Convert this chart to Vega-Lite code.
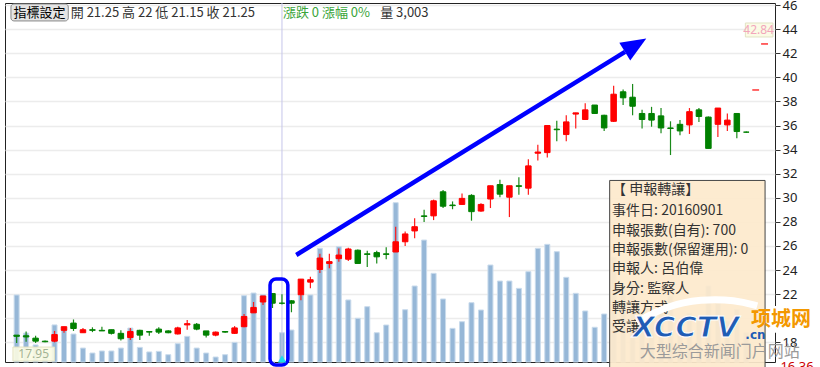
{
 "$schema": "https://vega.github.io/schema/vega-lite/v6.json",
 "width": 770, "height": 359,
 "autosize": {"type": "none"},
 "padding": {"left": 5, "top": 3, "right": 45, "bottom": 5},
 "background": "white",
 "config": {"view": {"stroke": "#222", "strokeWidth": 1}, "font": "Noto Sans CJK TC"},
 "datasets": {
  "k": [
   {"i":0,"o":18.6,"c":18.5,"h":18.6,"l":17.95,"v":6870},
   {"i":1,"o":18.55,"c":18.45,"h":18.9,"l":18.05,"v":2970},
   {"i":2,"o":18.35,"c":18.1,"h":18.55,"l":17.95,"v":1750},
   {"i":3,"o":18.1,"c":18.05,"h":18.15,"l":18.0,"v":920},
   {"i":4,"o":18.1,"c":18.65,"h":18.95,"l":18.0,"v":3800},
   {"i":5,"o":19.0,"c":19.3,"h":19.3,"l":18.8,"v":3300},
   {"i":6,"o":19.6,"c":19.15,"h":19.9,"l":18.95,"v":2870},
   {"i":7,"o":18.8,"c":19.05,"h":19.2,"l":18.8,"v":1430},
   {"i":8,"o":19.05,"c":19.0,"h":19.25,"l":18.85,"v":920},
   {"i":9,"o":19.0,"c":18.95,"h":19.3,"l":18.95,"v":1130},
   {"i":10,"o":19.05,"c":18.75,"h":19.05,"l":18.65,"v":1130},
   {"i":11,"o":18.75,"c":18.3,"h":19.0,"l":18.15,"v":1430},
   {"i":12,"o":18.4,"c":18.9,"h":19.2,"l":18.2,"v":3480},
   {"i":13,"o":19.0,"c":18.6,"h":19.05,"l":18.2,"v":1500},
   {"i":14,"o":18.9,"c":18.85,"h":18.9,"l":18.55,"v":1030},
   {"i":15,"o":19.1,"c":18.85,"h":19.25,"l":18.7,"v":1090},
   {"i":16,"o":18.95,"c":18.8,"h":19.0,"l":18.75,"v":750},
   {"i":17,"o":18.7,"c":19.2,"h":19.3,"l":18.65,"v":1880},
   {"i":18,"o":19.45,"c":19.55,"h":19.85,"l":19.05,"v":2630},
   {"i":19,"o":19.5,"c":19.1,"h":19.6,"l":19.0,"v":1430},
   {"i":20,"o":18.95,"c":18.6,"h":18.95,"l":18.4,"v":920},
   {"i":21,"o":18.6,"c":18.85,"h":18.9,"l":18.5,"v":510},
   {"i":22,"o":18.9,"c":18.85,"h":18.95,"l":18.8,"v":750},
   {"i":23,"o":18.75,"c":19.2,"h":19.35,"l":18.7,"v":2010},
   {"i":24,"o":19.3,"c":20.15,"h":20.35,"l":19.25,"v":6800},
   {"i":25,"o":20.45,"c":20.9,"h":21.35,"l":20.45,"v":7070},
   {"i":26,"o":21.35,"c":21.85,"h":21.85,"l":21.1,"v":6900},
   {"i":27,"o":22.05,"c":21.25,"h":22.05,"l":20.85,"v":0},
   {"i":28,"o":21.25,"c":21.25,"h":22.0,"l":21.15,"v":3003},
   {"i":29,"o":21.45,"c":21.25,"h":21.5,"l":20.5,"v":3280},
   {"i":30,"o":21.95,"c":23.25,"h":23.25,"l":21.5,"v":6870},
   {"i":31,"o":23.0,"c":23.2,"h":23.45,"l":22.5,"v":6870},
   {"i":32,"o":24.05,"c":25.0,"h":25.35,"l":23.75,"v":11650},
   {"i":33,"o":24.55,"c":24.7,"h":25.35,"l":24.15,"v":10120},
   {"i":34,"o":24.95,"c":25.25,"h":25.8,"l":24.7,"v":11820},
   {"i":35,"o":24.9,"c":25.75,"h":25.85,"l":24.75,"v":6360},
   {"i":36,"o":25.65,"c":24.55,"h":25.7,"l":24.55,"v":4480},
   {"i":37,"o":25.35,"c":25.3,"h":25.6,"l":24.25,"v":5670},
   {"i":38,"o":25.45,"c":25.1,"h":25.6,"l":24.55,"v":3000},
   {"i":39,"o":25.35,"c":25.3,"h":25.9,"l":24.9,"v":3790},
   {"i":40,"o":25.5,"c":26.35,"h":27.6,"l":25.5,"v":16330},
   {"i":41,"o":26.35,"c":27.0,"h":27.2,"l":26.0,"v":5360},
   {"i":42,"o":27.25,"c":27.6,"h":28.3,"l":26.65,"v":7790},
   {"i":43,"o":28.5,"c":28.45,"h":29.0,"l":28.0,"v":12500},
   {"i":44,"o":28.5,"c":29.75,"h":29.85,"l":28.15,"v":9090},
   {"i":45,"o":30.5,"c":29.3,"h":30.65,"l":29.15,"v":6460},
   {"i":46,"o":29.4,"c":29.35,"h":29.7,"l":29.05,"v":3450},
   {"i":47,"o":29.45,"c":29.95,"h":30.35,"l":29.4,"v":4130},
   {"i":48,"o":30.2,"c":28.85,"h":30.3,"l":28.1,"v":6080},
   {"i":49,"o":28.9,"c":29.45,"h":29.55,"l":28.85,"v":5330},
   {"i":50,"o":29.9,"c":31.0,"h":31.0,"l":29.15,"v":9940},
   {"i":51,"o":31.1,"c":30.3,"h":31.5,"l":30.05,"v":8300},
   {"i":52,"o":30.05,"c":31.0,"h":31.0,"l":28.4,"v":8300},
   {"i":53,"o":31.0,"c":30.95,"h":31.7,"l":30.25,"v":7550},
   {"i":54,"o":30.8,"c":32.65,"h":33.2,"l":30.25,"v":9260},
   {"i":55,"o":33.7,"c":33.8,"h":34.4,"l":33.1,"v":11650},
   {"i":56,"o":33.75,"c":36.0,"h":36.0,"l":33.35,"v":12060},
   {"i":57,"o":35.7,"c":35.65,"h":36.4,"l":34.7,"v":11310},
   {"i":58,"o":35.25,"c":36.3,"h":36.85,"l":34.7,"v":8680},
   {"i":59,"o":36.95,"c":37.05,"h":37.05,"l":35.75,"v":7040},
   {"i":60,"o":36.5,"c":37.3,"h":37.85,"l":36.5,"v":5230},
   {"i":61,"o":37.7,"c":37.0,"h":37.7,"l":36.95,"v":3560},
   {"i":62,"o":36.85,"c":35.8,"h":36.9,"l":35.55,"v":4920},
   {"i":63,"o":36.35,"c":38.6,"h":39.3,"l":36.3,"v":10760},
   {"i":64,"o":38.8,"c":38.3,"h":39.0,"l":37.7,"v":7000},
   {"i":65,"o":38.35,"c":37.6,"h":39.45,"l":36.85,"v":8200},
   {"i":66,"o":37.0,"c":36.5,"h":37.3,"l":35.75,"v":5200},
   {"i":67,"o":37.0,"c":36.45,"h":37.55,"l":35.9,"v":4600},
   {"i":68,"o":36.8,"c":35.8,"h":37.45,"l":35.35,"v":5600},
   {"i":69,"o":35.8,"c":35.75,"h":36.35,"l":33.55,"v":6800},
   {"i":70,"o":36.1,"c":35.55,"h":36.45,"l":35.2,"v":4100},
   {"i":71,"o":36.05,"c":37.15,"h":37.45,"l":35.3,"v":5000},
   {"i":72,"o":37.3,"c":36.75,"h":37.45,"l":36.3,"v":4300},
   {"i":73,"o":36.7,"c":34.1,"h":36.75,"l":34.1,"v":7800},
   {"i":74,"o":36.1,"c":37.45,"h":37.45,"l":35.05,"v":6000},
   {"i":75,"o":36.05,"c":36.45,"h":37.0,"l":35.55,"v":4200},
   {"i":76,"o":37.0,"c":35.5,"h":37.0,"l":34.95,"v":5400},
   {"i":77,"o":35.45,"c":35.45,"h":35.5,"l":35.4,"v":3000}
  ]
 },
 "resolve": {"scale": {"y": "independent"}},
 "layer": [
  {
   "data": {"name": "k"},
   "mark": {"type": "bar", "size": 5, "fill": "#96b7d7", "stroke": "#c9dbec", "strokeWidth": 1},
   "encoding": {
    "x": {"field": "i", "type": "quantitative", "scale": {"domain": [-0.7, 79.5]}, "axis": null},
    "y": {"field": "v", "type": "quantitative", "scale": {"domain": [0, 36800], "nice": false}, "axis": null}
   }
  },
  {
   "layer": [
    {
     "data": {"values": [{"i": 28}]},
     "mark": {"type": "rule", "color": "#c5c5ea", "strokeWidth": 1},
     "encoding": {
      "x": {"field": "i", "type": "quantitative", "scale": {"domain": [-0.7, 79.5]}, "axis": null}
     }
    },
    {
     "data": {"name": "k"},
     "mark": {"type": "rule", "strokeWidth": 1.2},
     "encoding": {
      "x": {"field": "i", "type": "quantitative", "scale": {"domain": [-0.7, 79.5]}, "axis": null},
      "y": {"field": "l", "type": "quantitative", "scale": {"domain": [16.37, 46.17], "zero": false, "nice": false},
        "axis": {"orient": "right", "title": null, "values": [18,20,22,24,26,28,30,32,34,36,38,40,42,44,46], "domain": false, "grid": true, "gridColor": "#ececec", "gridWidth": 1.5, "tickColor": "#333", "tickSize": 5, "labelFontSize": 13, "labelColor": "#222", "labelFont": "Noto Sans", "labelPadding": 2}},
      "y2": {"field": "h"},
      "color": {"condition": {"test": "datum.c > datum.o", "value": "#ff1a1a"}, "value": "#1a8a1a"}
     }
    },
    {
     "data": {"name": "k"},
     "mark": {"type": "bar", "size": 5.5, "strokeWidth": 1},
     "encoding": {
      "x": {"field": "i", "type": "quantitative", "scale": {"domain": [-0.7, 79.5]}, "axis": null},
      "y": {"field": "o", "type": "quantitative", "scale": {"domain": [16.37, 46.17], "zero": false, "nice": false},
        "axis": {"orient": "right", "title": null, "values": [18,20,22,24,26,28,30,32,34,36,38,40,42,44,46], "domain": false, "grid": true, "gridColor": "#ececec", "gridWidth": 1.5, "tickColor": "#333", "tickSize": 5, "labelFontSize": 13, "labelColor": "#222", "labelFont": "Noto Sans", "labelPadding": 2}},
      "y2": {"field": "c"},
      "color": {"condition": {"test": "datum.c > datum.o", "value": "#ff0000"}, "value": "#008000"},
      "stroke": {"condition": {"test": "datum.c > datum.o", "value": "#ff0000"}, "value": "#008000"}
     }
    }
   ]
  },
  {
   "layer": [
    {
     "data": {"values": [{"i": 29.51, "p": 25.25}, {"i": 64.2, "p": 42.12}]},
     "mark": {"type": "line", "color": "#0000ff", "strokeWidth": 4.5},
     "encoding": {
      "x": {"field": "i", "type": "quantitative", "scale": {"domain": [-0.7, 79.5]}, "axis": null},
      "y": {"field": "p", "type": "quantitative", "scale": {"domain": [16.37, 46.17], "zero": false, "nice": false}, "axis": null}
     }
    },
    {
     "data": {"values": [{"i": 65.31, "p": 42.68}]},
     "mark": {"type": "point", "shape": "M1,0L-1,-0.83L-1,0.83Z", "size": 635, "angle": -31.5, "filled": true, "color": "#0000ff", "opacity": 1},
     "encoding": {
      "x": {"field": "i", "type": "quantitative", "scale": {"domain": [-0.7, 79.5]}, "axis": null},
      "y": {"field": "p", "type": "quantitative", "scale": {"domain": [16.37, 46.17], "zero": false, "nice": false}, "axis": null}
     }
    },
    {
     "data": {"values": [{"i": 26.74, "i2": 28.62, "p": 23.26, "p2": 16.12}]},
     "mark": {"type": "rect", "cornerRadius": 6, "fillOpacity": 0, "stroke": "#0000ff", "strokeWidth": 3.5, "clip": false},
     "encoding": {
      "x": {"field": "i", "type": "quantitative", "scale": {"domain": [-0.7, 79.5]}, "axis": null},
      "x2": {"field": "i2"},
      "y": {"field": "p", "type": "quantitative", "scale": {"domain": [16.37, 46.17], "zero": false, "nice": false}, "axis": null},
      "y2": {"field": "p2"}
     }
    },
    {
     "data": {"values": [{"i": 28, "p": 16.62}]},
     "mark": {"type": "point", "shape": "triangle-up", "size": 70, "filled": true, "color": "#1ddcf0", "opacity": 1},
     "encoding": {
      "x": {"field": "i", "type": "quantitative", "scale": {"domain": [-0.7, 79.5]}, "axis": null},
      "y": {"field": "p", "type": "quantitative", "scale": {"domain": [16.37, 46.17], "zero": false, "nice": false}, "axis": null}
     }
    },
    {
     "data": {"values": [{"i": -0.39, "i2": 4.0, "p": 17.61, "p2": 16.45}, {"i": 76.9, "i2": 79.81, "p": 44.51, "p2": 43.35}]},
     "mark": {"type": "rect", "fill": "#fbfbe2", "fillOpacity": 0.9, "stroke": "#e2e2c4", "strokeWidth": 1},
     "encoding": {
      "x": {"field": "i", "type": "quantitative", "scale": {"domain": [-0.7, 79.5]}, "axis": null},
      "x2": {"field": "i2"},
      "y": {"field": "p", "type": "quantitative", "scale": {"domain": [16.37, 46.17], "zero": false, "nice": false}, "axis": null},
      "y2": {"field": "p2"}
     }
    },
    {
     "data": {"values": [{"i": 1.8, "p": 17.02, "t": "17.95"}]},
     "mark": {"type": "text", "fontSize": 12, "color": "#a3b394", "font": "Noto Sans", "baseline": "middle"},
     "encoding": {
      "x": {"field": "i", "type": "quantitative", "scale": {"domain": [-0.7, 79.5]}, "axis": null},
      "y": {"field": "p", "type": "quantitative", "scale": {"domain": [16.37, 46.17], "zero": false, "nice": false}, "axis": null},
      "text": {"field": "t"}
     }
    },
    {
     "data": {"values": [{"i": 78.3, "p": 43.93, "t": "42.84"}]},
     "mark": {"type": "text", "fontSize": 12, "color": "#f2a6bb", "font": "Noto Sans", "baseline": "middle"},
     "encoding": {
      "x": {"field": "i", "type": "quantitative", "scale": {"domain": [-0.7, 79.5]}, "axis": null},
      "y": {"field": "p", "type": "quantitative", "scale": {"domain": [16.37, 46.17], "zero": false, "nice": false}, "axis": null},
      "text": {"field": "t"}
     }
    },
    {
     "data": {"values": [{"i": 78.56, "i2": 79.29, "p": 42.77}, {"i": 77.63, "i2": 78.35, "p": 38.95}]},
     "mark": {"type": "rule", "color": "#ff0000", "strokeWidth": 1.2},
     "encoding": {
      "x": {"field": "i", "type": "quantitative", "scale": {"domain": [-0.7, 79.5]}, "axis": null},
      "x2": {"field": "i2"},
      "y": {"field": "p", "type": "quantitative", "scale": {"domain": [16.37, 46.17], "zero": false, "nice": false}, "axis": null}
     }
    },
    {
     "data": {"values": [{"i": -0.6, "i2": 5.45, "p": 46.09, "p2": 44.68}]},
     "mark": {"type": "rect", "fill": "#e4e4e4", "stroke": "#8a8a8a", "strokeWidth": 1, "cornerRadius": 3},
     "encoding": {
      "x": {"field": "i", "type": "quantitative", "scale": {"domain": [-0.7, 79.5]}, "axis": null},
      "x2": {"field": "i2"},
      "y": {"field": "p", "type": "quantitative", "scale": {"domain": [16.37, 46.17], "zero": false, "nice": false}, "axis": null},
      "y2": {"field": "p2"}
     }
    },
    {
     "data": {"values": [{"i": 2.42, "p": 45.38, "t": "指標設定"}]},
     "mark": {"type": "text", "fontSize": 13, "color": "#000", "baseline": "middle", "align": "center"},
     "encoding": {
      "x": {"field": "i", "type": "quantitative", "scale": {"domain": [-0.7, 79.5]}, "axis": null},
      "y": {"field": "p", "type": "quantitative", "scale": {"domain": [16.37, 46.17], "zero": false, "nice": false}, "axis": null},
      "text": {"field": "t"}
     }
    },
    {
     "data": {"values": [{"i": 5.71, "p": 45.38, "t": "開 21.25  高 22  低 21.15  收 21.25"}, {"i": 38.36, "p": 45.38, "t": "量 3,003"}]},
     "mark": {"type": "text", "fontSize": 13, "color": "#333", "baseline": "middle", "align": "left"},
     "encoding": {
      "x": {"field": "i", "type": "quantitative", "scale": {"domain": [-0.7, 79.5]}, "axis": null},
      "y": {"field": "p", "type": "quantitative", "scale": {"domain": [16.37, 46.17], "zero": false, "nice": false}, "axis": null},
      "text": {"field": "t"}
     }
    },
    {
     "data": {"values": [{"i": 28.1, "p": 45.38, "t": "漲跌 0  漲幅   0%"}]},
     "mark": {"type": "text", "fontSize": 13, "color": "#3aa53a", "baseline": "middle", "align": "left"},
     "encoding": {
      "x": {"field": "i", "type": "quantitative", "scale": {"domain": [-0.7, 79.5]}, "axis": null},
      "y": {"field": "p", "type": "quantitative", "scale": {"domain": [16.37, 46.17], "zero": false, "nice": false}, "axis": null},
      "text": {"field": "t"}
     }
    },
    {
     "data": {"values": [{"i": 62.58, "i2": 78.98, "p": 31.44, "p2": 15.9}]},
     "mark": {"type": "rect", "fill": "#fde9cc", "fillOpacity": 0.93, "stroke": "#444", "strokeWidth": 1, "clip": false},
     "encoding": {
      "x": {"field": "i", "type": "quantitative", "scale": {"domain": [-0.7, 79.5]}, "axis": null},
      "x2": {"field": "i2"},
      "y": {"field": "p", "type": "quantitative", "scale": {"domain": [16.37, 46.17], "zero": false, "nice": false}, "axis": null},
      "y2": {"field": "p2"}
     }
    },
    {
     "data": {"values": [{"i": 79.12, "i2": 83.8, "p": 21.02, "p2": 18.8}]},
     "mark": {"type": "rect", "fill": "#ffffff", "clip": false},
     "encoding": {
      "x": {"field": "i", "type": "quantitative", "scale": {"domain": [-0.7, 79.5]}, "axis": null},
      "x2": {"field": "i2"},
      "y": {"field": "p", "type": "quantitative", "scale": {"domain": [16.37, 46.17], "zero": false, "nice": false}, "axis": null},
      "y2": {"field": "p2"}
     }
    },
    {
     "data": {"values": [
      {"i": 62.84, "p": 30.65, "t": "【 申報轉讓】"},
      {"i": 62.84, "p": 28.9, "t": "事件日: 20160901"},
      {"i": 62.84, "p": 27.24, "t": "申報張數(自有): 700"},
      {"i": 62.84, "p": 25.67, "t": "申報張數(保留運用): 0"},
      {"i": 62.84, "p": 24.09, "t": "申報人: 呂伯偉"},
      {"i": 62.84, "p": 22.43, "t": "身分: 監察人"},
      {"i": 62.84, "p": 20.85, "t": "轉讓方式"},
      {"i": 62.84, "p": 19.28, "t": "受讓"}
     ]},
     "mark": {"type": "text", "fontSize": 14, "color": "#333", "baseline": "middle", "align": "left"},
     "encoding": {
      "x": {"field": "i", "type": "quantitative", "scale": {"domain": [-0.7, 79.5]}, "axis": null},
      "y": {"field": "p", "type": "quantitative", "scale": {"domain": [16.37, 46.17], "zero": false, "nice": false}, "axis": null},
      "text": {"field": "t"}
     }
    },
    {
     "data": {"values": [{"i": 65.44, "p": 19.69}, {"i": 68.56, "p": 21.02}, {"i": 72.21, "p": 21.6}, {"i": 75.86, "p": 21.52}, {"i": 78.15, "p": 21.02}]},
     "mark": {"type": "line", "color": "#ffffff", "strokeWidth": 7, "interpolate": "basis"},
     "encoding": {
      "x": {"field": "i", "type": "quantitative", "scale": {"domain": [-0.7, 79.5]}, "axis": null},
      "y": {"field": "p", "type": "quantitative", "scale": {"domain": [16.37, 46.17], "zero": false, "nice": false}, "axis": null}
     }
    },
    {
     "data": {"values": [{"i": 65.02, "p": 18.45, "t": "XCCTV"}]},
     "mark": {"type": "text", "fontSize": 29, "font": "DejaVu Sans", "fontWeight": "bold", "fontStyle": "italic", "color": "#1f5cb5", "stroke": "#ffffff", "strokeWidth": 1, "align": "left", "baseline": "alphabetic"},
     "encoding": {
      "x": {"field": "i", "type": "quantitative", "scale": {"domain": [-0.7, 79.5]}, "axis": null},
      "y": {"field": "p", "type": "quantitative", "scale": {"domain": [16.37, 46.17], "zero": false, "nice": false}, "axis": null},
      "text": {"field": "t"}
     }
    },
    {
     "data": {"values": [{"i": 76.9, "p": 18.28, "t": ".cn"}]},
     "mark": {"type": "text", "fontSize": 12, "font": "DejaVu Sans", "fontWeight": "bold", "color": "#1f5cb5", "align": "left", "baseline": "alphabetic"},
     "encoding": {
      "x": {"field": "i", "type": "quantitative", "scale": {"domain": [-0.7, 79.5]}, "axis": null},
      "y": {"field": "p", "type": "quantitative", "scale": {"domain": [16.37, 46.17], "zero": false, "nice": false}, "axis": null},
      "text": {"field": "t"}
     }
    },
    {
     "data": {"values": [{"i": 77.5, "p": 19.86, "t": "项城网"}]},
     "mark": {"type": "text", "fontSize": 20, "font": "Noto Sans CJK SC", "fontWeight": "bold", "color": "#f39800", "align": "left", "baseline": "middle"},
     "encoding": {
      "x": {"field": "i", "type": "quantitative", "scale": {"domain": [-0.7, 79.5]}, "axis": null},
      "y": {"field": "p", "type": "quantitative", "scale": {"domain": [16.37, 46.17], "zero": false, "nice": false}, "axis": null},
      "text": {"field": "t"}
     }
    },
    {
     "data": {"values": [{"i": 65.75, "p": 17.2, "t": "大型综合新闻门户网站"}]},
     "mark": {"type": "text", "fontSize": 16, "font": "Noto Sans CJK SC", "color": "#9a9a9a", "align": "left", "baseline": "middle"},
     "encoding": {
      "x": {"field": "i", "type": "quantitative", "scale": {"domain": [-0.7, 79.5]}, "axis": null},
      "y": {"field": "p", "type": "quantitative", "scale": {"domain": [16.37, 46.17], "zero": false, "nice": false}, "axis": null},
      "text": {"field": "t"}
     }
    },
    {
     "data": {"values": [{"i": 80.6, "p": 15.95, "t": "16.36"}]},
     "mark": {"type": "text", "fontSize": 13, "font": "Noto Sans", "color": "#cc0000", "align": "left", "baseline": "middle"},
     "encoding": {
      "x": {"field": "i", "type": "quantitative", "scale": {"domain": [-0.7, 79.5]}, "axis": null},
      "y": {"field": "p", "type": "quantitative", "scale": {"domain": [16.37, 46.17], "zero": false, "nice": false}, "axis": null},
      "text": {"field": "t"}
     }
    }
   ]
  }
 ]
}
